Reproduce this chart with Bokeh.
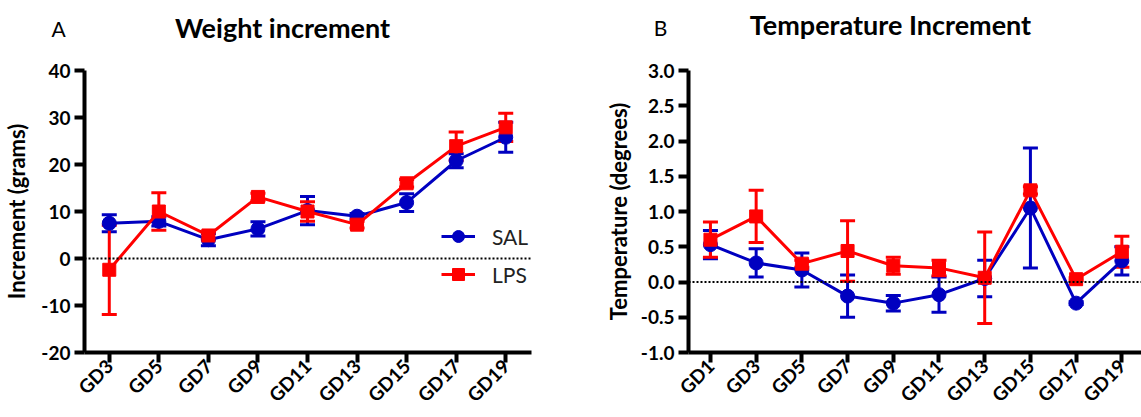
from bokeh.plotting import figure
from bokeh.layouts import row, column
from bokeh.models import (ColumnDataSource, Whisker, TeeHead, Span, Legend,
                          LegendItem, FixedTicker, NumeralTickFormatter, Range1d)
from bokeh.core.properties import value
from bokeh.embed import file_html
from bokeh.resources import INLINE
import math

FONT = "Lato"
BLUE = "#0000C0"
RED = "#FF0000"

# ---- Panel A data: weight increment (grams)
days_a = ["GD3", "GD5", "GD7", "GD9", "GD11", "GD13", "GD15", "GD17", "GD19"]
sal_w = [7.5, 7.9, 4.0, 6.3, 10.2, 9.0, 11.9, 20.8, 25.8]
sal_w_err = [1.8, 1.0, 1.3, 1.5, 3.0, 0.6, 1.9, 1.5, 3.2]
lps_w = [-2.4, 10.0, 4.9, 13.1, 10.0, 7.2, 16.0, 23.9, 27.9]
lps_w_err = [9.5, 4.0, 0.8, 0.8, 2.1, 0.7, 0.8, 3.0, 3.0]
yticks_a = [-20, -10, 0, 10, 20, 30, 40]

# ---- Panel B data: temperature increment (degrees)
days_b = ["GD1", "GD3", "GD5", "GD7", "GD9", "GD11", "GD13", "GD15", "GD17", "GD19"]
sal_t = [0.53, 0.27, 0.17, -0.20, -0.30, -0.18, 0.05, 1.05, -0.30, 0.30]
sal_t_err = [0.20, 0.20, 0.24, 0.30, 0.11, 0.25, 0.26, 0.85, 0.02, 0.20]
lps_t = [0.60, 0.93, 0.26, 0.44, 0.23, 0.20, 0.06, 1.30, 0.04, 0.43]
lps_t_err = [0.25, 0.37, 0.05, 0.43, 0.12, 0.11, 0.65, 0.05, 0.02, 0.22]
yticks_b = [-1.0, -0.5, 0.0, 0.5, 1.0, 1.5, 2.0, 2.5, 3.0]

# panel headings
letters = ["A", "B"]
titles = ["Weight increment", "Temperature Increment"]

W = 1141
HEADER_H = 50


def make_header():
    h = figure(width=W, height=HEADER_H, output_backend="svg", toolbar_location=None,
               x_range=Range1d(0, W), y_range=Range1d(HEADER_H, 0),
               x_axis_location=None, y_axis_location=None, min_border=0)
    h.outline_line_color = None
    h.grid.visible = False
    h.text(x=[58, 660], y=[28, 27], text=letters, text_font=value(FONT),
           text_font_size="21px", text_align="center", text_baseline="middle",
           text_color="black")
    h.text(x=[282, 890], y=[27, 24], text=titles, text_font=value(FONT),
           text_font_style="bold", text_font_size="27px", text_align="center",
           text_baseline="middle", text_color="black")
    return h


def make_panel(days, sal, sal_err, lps, lps_err, yticks, width, mb_left, mb_right,
               xr, yr, ylabel, fmt, label_standoff):
    p = figure(width=width, height=417 - HEADER_H, output_backend="svg",
               toolbar_location=None, x_range=Range1d(*xr), y_range=Range1d(*yr),
               min_border_left=mb_left, min_border_right=mb_right,
               min_border_top=70 - HEADER_H, min_border_bottom=64)
    p.outline_line_color = None
    p.grid.visible = False

    idx = list(range(len(days)))
    for ax in (p.xaxis[0], p.yaxis[0]):
        ax.axis_line_width = 4
        ax.axis_line_color = "black"
        ax.major_tick_line_width = 4
        ax.major_tick_line_color = "black"
        ax.major_tick_out = 10
        ax.major_tick_in = 0
        ax.minor_tick_line_color = None
        ax.major_label_text_font = FONT
        ax.major_label_text_font_style = "bold"
        ax.major_label_text_color = "black"
    p.xaxis.ticker = FixedTicker(ticks=idx)
    p.xaxis.major_label_overrides = {i: d for i, d in enumerate(days)}
    p.xaxis.major_label_orientation = math.pi / 4
    p.xaxis.major_label_text_font_size = "19px"
    p.xaxis.major_label_standoff = 0
    p.yaxis.ticker = FixedTicker(ticks=yticks)
    p.yaxis.formatter = NumeralTickFormatter(format=fmt)
    p.yaxis.major_label_text_font_size = "19px"
    p.yaxis.major_label_standoff = 4
    p.yaxis.axis_label = ylabel
    p.yaxis.axis_label_text_font = FONT
    p.yaxis.axis_label_text_font_style = "bold"
    p.yaxis.axis_label_text_font_size = "22px"
    p.yaxis.axis_label_text_color = "black"
    p.yaxis.axis_label_standoff = label_standoff

    p.add_layout(Span(location=0, dimension="width", line_color="black",
                      line_width=2, line_dash="2 2"))

    rends = {}
    for name, vals, errs, color, marker, size in (
            ("SAL", sal, sal_err, BLUE, "circle", 14),
            ("LPS", lps, lps_err, RED, "square", 13)):
        src = ColumnDataSource(dict(x=idx, y=vals,
                                    lo=[v - e for v, e in zip(vals, errs)],
                                    hi=[v + e for v, e in zip(vals, errs)]))
        w = Whisker(base="x", upper="hi", lower="lo", source=src,
                    line_color=color, line_width=3,
                    upper_head=TeeHead(size=15, line_color=color, line_width=3),
                    lower_head=TeeHead(size=15, line_color=color, line_width=3))
        p.add_layout(w)
        lr = p.line("x", "y", source=src, line_color=color, line_width=3)
        sr = p.scatter("x", "y", source=src, marker=marker, size=size,
                       fill_color=color, line_color=color)
        rends[name] = [lr, sr]
    return p, rends


pa, ra = make_panel(days_a, sal_w, sal_w_err, lps_w, lps_w_err, yticks_a,
                    570, 79, 39, (-0.5, 8.52), (-20, 40), "Increment (grams)", "0", 8)
pb, rb = make_panel(days_b, sal_t, sal_t_err, lps_t, lps_t_err, yticks_b,
                    571, 118, 0, (-0.48, 9.43), (-1.0, 3.0), "Temperature (degrees)", "0.0", 6)

legend = Legend(items=[LegendItem(label="SAL", renderers=ra["SAL"]),
                       LegendItem(label="LPS", renderers=ra["LPS"])],
                location=(357, 63), orientation="vertical",
                background_fill_alpha=0, border_line_color=None,
                padding=0, margin=0, spacing=8,
                glyph_width=34, glyph_height=30, label_height=30,
                label_standoff=17, label_text_font=FONT,
                label_text_font_size="21px", label_text_color="#222222")
pa.add_layout(legend, "center")

header = make_header()
layout = column(header, row(pa, pb, spacing=0), spacing=0)
open("out.html", "w").write(file_html(layout, INLINE))
